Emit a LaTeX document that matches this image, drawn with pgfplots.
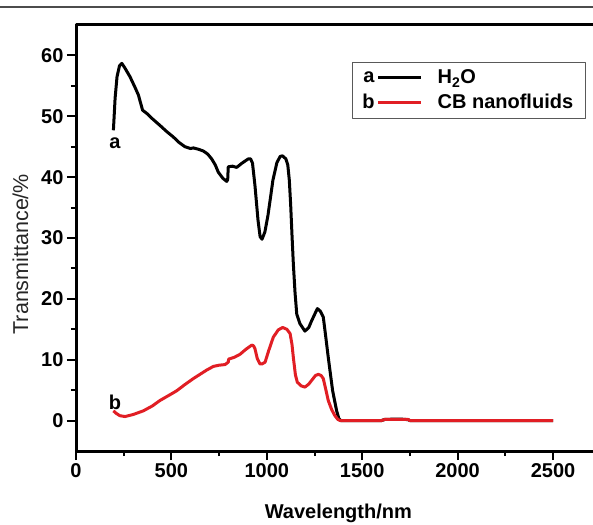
\documentclass[border=0pt]{standalone}
\usepackage{fontspec}
\setmainfont{Liberation Sans}
\usepackage{pgfplots}
\pgfplotsset{compat=1.18}

\definecolor{curvered}{RGB}{225,30,36}
\newcommand\boldfont{\bfseries\fontsize{20}{24}\selectfont}

\pgfplotsset{
  leglab/.style={legend image code/.code={%
    \draw[##1] (0pt,0pt) -- (43pt,0pt);
    \node[anchor=east,inner sep=0pt,text=black,font=\boldfont] at (-2pt,0pt) {#1};
    \path (56pt,0pt);}},
}

\begin{document}
\begin{tikzpicture}
% axis box lower left corner sits at the origin
\useasboundingbox (-76pt,-73pt) rectangle (517pt,451pt);
\clip (-76pt,-73pt) rectangle (517pt,451pt);
\draw[gray!60!black, line width=1.4pt] (-76pt,444pt) -- (517pt,444pt);
\begin{axis}[
  scale only axis, width=524.7pt, height=426pt,
  xmin=0, xmax=2750, ymin=-5, ymax=65,
  xtick={0,500,...,2500}, ytick={0,10,...,60},
  minor x tick num=1, minor y tick num=1,
  xtick pos=bottom, ytick pos=left, tick align=outside,
  major tick length=9pt, minor tick length=5pt,
  every tick/.style={black, line width=2pt},
  axis line style={line width=3pt},
  ticklabel style={font=\boldfont},
  /pgf/number format/assume math mode=true,
  scaled ticks=false,
  xticklabel style={/pgf/number format/1000 sep={}},
  xlabel={\textbf{Wavelength/nm}},
  xlabel style={font=\fontsize{20}{24}\selectfont, at={(axis description cs:0.5,-0.146)}, anchor=center},
  ylabel={Transmittance/\%},
  ylabel style={font=\fontsize{21.5}{25}\selectfont, text=black!85, at={(axis description cs:-0.106,0.462)}, anchor=center},
  legend style={at={(axis description cs:0.526,0.914)}, anchor=north west,
    draw=gray!70!black, line width=0.8pt, font=\boldfont,
    inner xsep=10pt, inner ysep=6pt, row sep=5pt},
  legend cell align=left,
  line join=round,
]
\addplot[black, line width=3pt, leglab=a] table {
x y
196 47.7
205 53
215 56.5
228 58.3
240 58.7
255 58
283 56.5
310 54.7
327 53.5
349 51
374 50.4
400 49.6
440 48.5
475 47.5
510 46.6
540 45.7
571 45.0
600 44.7
615 44.8
640 44.6
667 44.3
690 43.8
711 43.0
730 42.0
746 40.8
770 39.8
790 39.3
795 39.6
798 41.7
820 41.8
842 41.6
870 42.3
903 43.0
915 43.0
925 42.3
938 38.6
954 32.9
965 30.2
975 29.8
990 31.0
1006 33.7
1020 36.8
1032 39.5
1053 42.4
1070 43.4
1082 43.5
1100 43.0
1110 42.0
1118 39.5
1125 35.5
1132 30.5
1139 25.8
1148 21.0
1157 17.5
1174 15.9
1200 14.7
1220 15.3
1235 16.4
1265 18.4
1280 18.0
1296 17.0
1310 13.5
1322 10.4
1345 4.9
1366 1.6
1378 0.3
1388 0
1600 0
1620 0.2
1700 0.25
1740 0.15
1750 0
2500 0
};
\addlegendentry{H\textsubscript{2}O}
\addplot[curvered, line width=3pt, leglab=b] table {
x y
196 1.6
210 1.2
230 0.8
257 0.66
300 1.0
353 1.6
400 2.4
440 3.3
490 4.2
528 4.9
570 5.9
615 6.9
650 7.6
685 8.3
720 8.9
750 9.1
781 9.2
798 9.6
800 10.1
830 10.4
860 10.9
890 11.7
921 12.4
930 12.3
938 11.8
950 10.2
964 9.3
975 9.3
991 9.6
1010 11.5
1034 13.7
1060 14.9
1083 15.3
1105 15.0
1122 14.3
1132 12.5
1139 10.4
1150 7.5
1160 6.3
1180 5.7
1200 5.5
1220 6.0
1235 6.6
1255 7.4
1270 7.6
1285 7.4
1296 6.9
1310 5.0
1322 3.3
1340 1.8
1357 0.8
1372 0.2
1384 0
1600 0
1620 0.2
1740 0.2
1750 0
2500 0
};
\addlegendentry{CB nanofluids}
\node[font=\boldfont] at (axis cs:204,45.6) {a};
\node[font=\boldfont] at (axis cs:204,3.0) {b};
\end{axis}
\end{tikzpicture}
\end{document}
